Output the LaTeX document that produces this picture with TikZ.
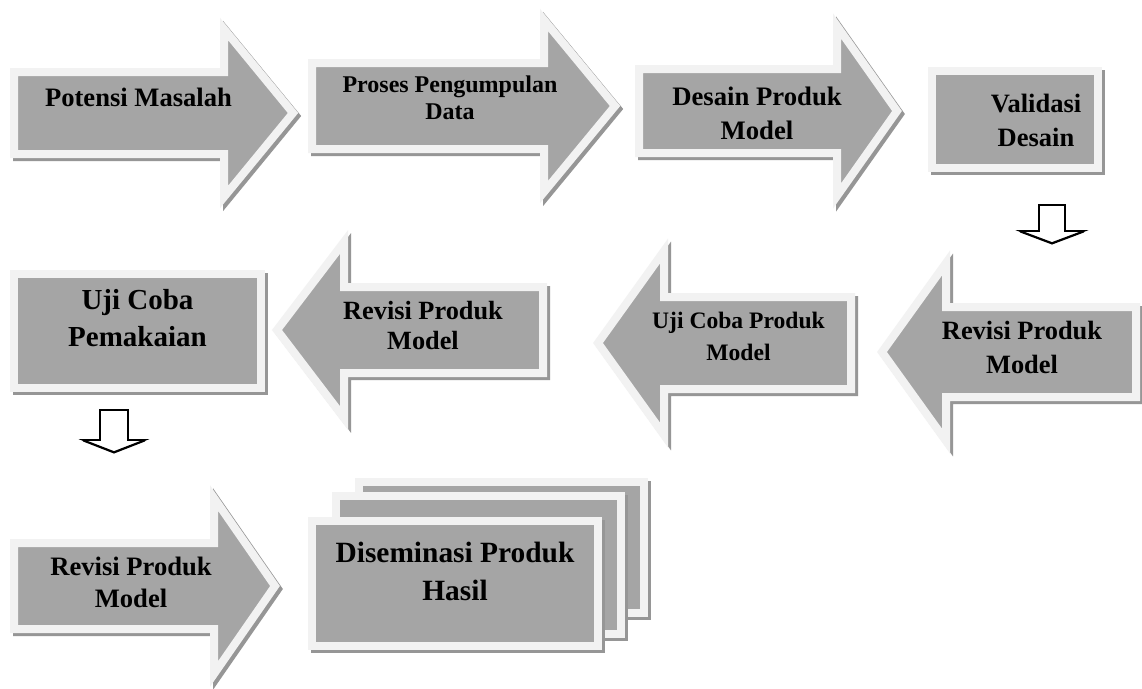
\documentclass[tikz,border=0pt]{standalone}
\usepackage{fontspec}
\setmainfont{Liberation Serif}
\definecolor{fillg}{RGB}{165,165,165}
\definecolor{edgeg}{RGB}{242,242,242}
\definecolor{shadg}{RGB}{150,150,150}
\tikzset{
  shapebody/.style={fill=fillg, draw=edgeg, line width=8pt, line join=miter},
  shapeshadow/.style={fill=shadg, draw=shadg, line width=8pt, line join=miter, shift={(3,3)}},
  lbl/.style={font=\bfseries, align=center, text=black, inner sep=0pt},
  downarr/.style={fill=white, draw=black, line width=1.6pt, line join=miter},
}
% right arrow: left end, neck, tip, centre y, body half height, head half height
\newcommand\RArrow[6]{%
  \path[shapeshadow] ({#1+4},{#4-#5+4}) -- ({#2+4},{#4-#5+4}) -- ({#2+4},{#4-#6+11}) -- ({#3-5},{#4}) -- ({#2+4},{#4+#6-11}) -- ({#2+4},{#4+#5-4}) -- ({#1+4},{#4+#5-4}) -- cycle;
  \path[shapebody] ({#1+4},{#4-#5+4}) -- ({#2+4},{#4-#5+4}) -- ({#2+4},{#4-#6+11}) -- ({#3-5},{#4}) -- ({#2+4},{#4+#6-11}) -- ({#2+4},{#4+#5-4}) -- ({#1+4},{#4+#5-4}) -- cycle;}
% left arrow: right end, neck, tip, centre y, body half height, head half height
\newcommand\LArrow[6]{%
  \path[shapeshadow] ({#1-4},{#4-#5+4}) -- ({#2-4},{#4-#5+4}) -- ({#2-4},{#4-#6+11}) -- ({#3+5},{#4}) -- ({#2-4},{#4+#6-11}) -- ({#2-4},{#4+#5-4}) -- ({#1-4},{#4+#5-4}) -- cycle;
  \path[shapebody] ({#1-4},{#4-#5+4}) -- ({#2-4},{#4-#5+4}) -- ({#2-4},{#4-#6+11}) -- ({#3+5},{#4}) -- ({#2-4},{#4+#6-11}) -- ({#2-4},{#4+#5-4}) -- ({#1-4},{#4+#5-4}) -- cycle;}
% box: left, top, right, bottom (outer edges)
\newcommand\GBox[4]{%
  \path[shapeshadow] ({#1+4},{#2+4}) rectangle ({#3-4},{#4-4});
  \path[shapebody] ({#1+4},{#2+4}) rectangle ({#3-4},{#4-4});}
% small down arrow: centre x, top, head base, tip, shaft half width, head half width
\newcommand\DArrow[6]{%
  \path[downarr] ({#1-#5},#2) -- ({#1+#5},#2) -- ({#1+#5},#3) -- ({#1+#6},#3) -- (#1,#4) -- ({#1-#6},#3) -- ({#1-#5},#3) -- cycle;
  \draw[black, line width=1.2pt] ({#1+#6},{#3+0.8}) -- (#1,{#4+0.9}) -- ({#1-#6},{#3+0.8});}
\begin{document}
\begin{tikzpicture}[x=1pt,y=-1pt]
\useasboundingbox[fill=white] (0,0) rectangle (1142,688);
% row 1
\RArrow{10}{220}{298}{113}{45}{95}
\RArrow{308}{540}{620}{106}{47}{97}
\RArrow{635}{833}{902}{111}{46}{96}
\GBox{928}{67}{1102}{172}
\DArrow{1052}{205}{231}{243}{13}{32}
% row 2
\GBox{10}{270}{265}{392}
\LArrow{547}{348}{272}{330}{47}{99}
\LArrow{855}{668}{593}{343}{50}{103}
\LArrow{1140}{950}{877}{352}{49}{100}
\DArrow{114}{410}{440}{452}{14}{31}
% row 3
\RArrow{10}{210}{280}{586}{47}{99}
\GBox{355}{478}{648}{617}
\GBox{332}{492}{625}{638}
\GBox{308}{517}{602}{650}
% labels
\node[lbl, font={\bfseries\fontsize{26.6}{32}\selectfont}] (t1) at (138.5,97) {Potensi Masalah};
\node[lbl, font={\bfseries\fontsize{24}{27}\selectfont}] (t2) at (450,98) {Proses Pengumpulan\\Data};
\node[lbl, font={\bfseries\fontsize{26.7}{34}\selectfont}] (t3) at (757,113) {Desain Produk\\Model};
\node[lbl, font={\bfseries\fontsize{26.5}{34}\selectfont}] (t4) at (1036,120) {Validasi\\Desain};
\node[lbl, font={\bfseries\fontsize{29}{37}\selectfont}] (t5) at (137.5,318) {Uji Coba\\Pemakaian};
\node[lbl, font={\bfseries\fontsize{26.3}{30}\selectfont}] (t6) at (423,325) {Revisi Produk\\Model};
\node[lbl, font={\bfseries\fontsize{23.6}{32}\selectfont}] (t7) at (738.5,336) {Uji Coba Produk\\Model};
\node[lbl, font={\bfseries\fontsize{26.4}{34}\selectfont}] (t8) at (1022,347) {Revisi Produk\\Model};
\node[lbl, font={\bfseries\fontsize{26.6}{32}\selectfont}] (t9) at (131,582) {Revisi Produk\\Model};
\node[lbl, font={\bfseries\fontsize{29.4}{38}\selectfont}] (t10) at (455,571) {Diseminasi Produk\\Hasil};
\end{tikzpicture}
\end{document}
